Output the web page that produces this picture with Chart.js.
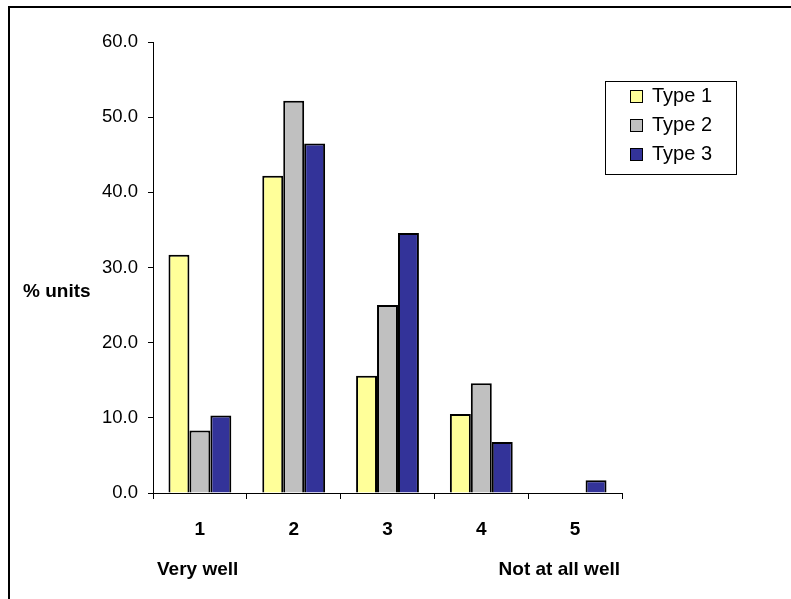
<!DOCTYPE html>
<html lang="en">
<head>
    <meta charset="UTF-8">
    <title>% units by rating</title>
    <script src="https://cdn.jsdelivr.net/npm/chart.js"></script>
    <style>
        body {
            margin: 0;
            padding: 0;
            background-color: #ffffff;
        }

        .container {
            width: 791px;
            height: 599px;
            position: relative;
        }
    </style>
</head>
<body>
    <div class="container">
        <canvas id="ratingChart"></canvas>
    </div>

    <script>
        // chart data
        var categories = ['1', '2', '3', '4', '5'];
        var seriesNames = ['Type 1', 'Type 2', 'Type 3'];
        var type1 = [31.7, 42.2, 15.6, 10.5, 0];
        var type2 = [8.3, 52.2, 25.0, 14.6, 0];
        var type3 = [10.3, 46.5, 34.6, 6.8, 1.7];
        var seriesColors = ['#FFFF99', '#C0C0C0', '#333399'];
        var yAxisTitle = '% units';
        var lowEndLabel = 'Very well';
        var highEndLabel = 'Not at all well';

        var fontFamily = "'Liberation Sans', Arial, sans-serif";

        // extra text, the outer frame and the boxed legend
        var decorations = {
            id: 'decorations',
            afterDraw: function (chart) {
                var ctx = chart.ctx;
                ctx.save();

                // outer frame (only top and left edges fall inside the window)
                ctx.strokeStyle = '#000';
                ctx.lineWidth = 2;
                ctx.strokeRect(9, 7, 900, 800);

                // y axis title
                ctx.fillStyle = '#000';
                ctx.font = 'bold 19px ' + fontFamily;
                ctx.textAlign = 'left';
                ctx.textBaseline = 'middle';
                ctx.fillText(yAxisTitle, 23, 292);

                // end labels under the x axis
                ctx.textBaseline = 'alphabetic';
                ctx.fillText(lowEndLabel, 157, 575);
                ctx.textAlign = 'right';
                ctx.fillText(highEndLabel, 620, 575);

                // legend box
                var boxX = 605, boxY = 81, boxW = 131, boxH = 93;
                ctx.fillStyle = '#fff';
                ctx.fillRect(boxX, boxY, boxW, boxH);
                ctx.strokeStyle = '#000';
                ctx.lineWidth = 1;
                ctx.strokeRect(boxX + 0.5, boxY + 0.5, boxW, boxH);

                ctx.font = '20px ' + fontFamily;
                ctx.textAlign = 'left';
                ctx.textBaseline = 'middle';
                chart.data.datasets.forEach(function (ds, i) {
                    var rowY = boxY + 15 + i * 29;
                    ctx.fillStyle = ds.backgroundColor;
                    ctx.fillRect(630, rowY - 6, 13, 13);
                    ctx.strokeStyle = '#000';
                    ctx.lineWidth = 1;
                    ctx.strokeRect(630.5, rowY - 5.5, 12, 12);
                    ctx.fillStyle = '#000';
                    ctx.fillText(ds.label, 652, rowY);
                });

                ctx.restore();
            }
        };

        var ctx = document.getElementById('ratingChart').getContext('2d');
        var ratingChart = new Chart(ctx, {
            type: 'bar',
            data: {
                labels: categories,
                datasets: [type1, type2, type3].map(function (values, i) {
                    return {
                        label: seriesNames[i],
                        data: values,
                        backgroundColor: seriesColors[i],
                        borderColor: '#000',
                        borderWidth: 2,
                        borderSkipped: 'start',
                        categoryPercentage: 0.67,
                        barPercentage: 1.0
                    };
                })
            },
            options: {
                responsive: true,
                maintainAspectRatio: false,
                animation: false,
                layout: {
                    padding: { left: 0, top: 42, right: 169, bottom: 0 }
                },
                plugins: {
                    legend: { display: false },
                    tooltip: { enabled: false }
                },
                scales: {
                    x: {
                        grid: {
                            offset: true,
                            drawOnChartArea: false,
                            tickLength: 6,
                            color: '#000'
                        },
                        border: { color: '#000', width: 1 },
                        ticks: {
                            padding: 19,
                            color: '#000',
                            font: { family: fontFamily, size: 19, weight: 'bold' }
                        },
                        afterFit: function (scale) {
                            scale.height = 106;
                        }
                    },
                    y: {
                        min: 0,
                        max: 60,
                        grid: {
                            drawOnChartArea: false,
                            tickLength: 5,
                            color: '#000'
                        },
                        border: { color: '#000', width: 1 },
                        ticks: {
                            stepSize: 10,
                            padding: 10,
                            color: '#000',
                            font: { family: fontFamily, size: 18.5 },
                            callback: function (value) {
                                return value.toFixed(1);
                            }
                        },
                        afterFit: function (scale) {
                            scale.width = 153;
                        }
                    }
                }
            },
            plugins: [decorations]
        });
    </script>
</body>
</html>
